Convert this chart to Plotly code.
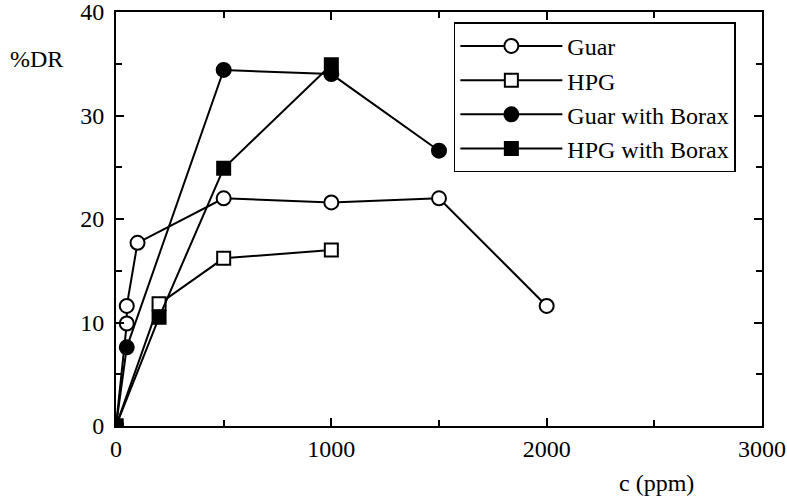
import plotly.graph_objects as go

guar_x = [0, 50, 50, 100, 500, 1000, 1500, 2000]
guar_y = [0, 9.9, 11.6, 17.7, 22.0, 21.6, 22.0, 11.6]

hpg_x = [0, 200, 500, 1000]
hpg_y = [0, 11.8, 16.2, 17.0]

guarb_x = [0, 50, 500, 1000, 1500]
guarb_y = [0, 7.6, 34.4, 34.0, 26.6]

hpgb_x = [0, 200, 500, 1000]
hpgb_y = [0, 10.5, 24.9, 34.9]

x_ticks = [0, 1000, 2000, 3000]
y_ticks = [0, 10, 20, 30, 40]

FONT = "Liberation Serif"
fig = go.Figure()

def add(name, x, y, symbol, fill):
    fig.add_trace(go.Scatter(
        x=x, y=y, name=name, mode="lines+markers",
        line=dict(color="black", width=2),
        marker=dict(symbol=symbol, size=14 if "circle" in symbol else 13,
                    color=fill, line=dict(color="black", width=2)),
    ))

add("Guar", guar_x, guar_y, "circle", "white")
add("HPG", hpg_x, hpg_y, "square", "white")
add("Guar with Borax", guarb_x, guarb_y, "circle", "black")
add("HPG with Borax", hpgb_x, hpgb_y, "square", "black")

axis_common = dict(
    showline=True, linecolor="black", linewidth=2, mirror="allticks",
    ticks="inside", ticklen=8, tickwidth=1.5, tickcolor="black",
    showgrid=False, zeroline=False, automargin=False,
    ticklabeloverflow="allow",
    tickfont=dict(family=FONT, size=24, color="black"),
)

fig.update_xaxes(range=[0, 3000], tickvals=x_ticks,
                 ticktext=[str(v) for v in x_ticks],
                 minor=dict(dtick=500, ticks="inside", ticklen=6,
                            tickcolor="black", tickwidth=1.5),
                 **axis_common)
fig.update_yaxes(range=[0, 40], tickvals=y_ticks,
                 ticktext=[str(v) for v in y_ticks],
                 ticklabelstandoff=5,
                 minor=dict(dtick=5, ticks="inside", ticklen=6,
                            tickcolor="black", tickwidth=1.5),
                 **axis_common)

fig.update_layout(
    width=787, height=498,
    margin=dict(l=116, r=25, t=12, b=72),
    paper_bgcolor="white", plot_bgcolor="white",
    font=dict(family=FONT, size=24, color="black"),
    showlegend=True,
    legend=dict(x=0.523, y=0.975, xanchor="left", yanchor="top",
                bordercolor="black", borderwidth=1.5, bgcolor="white",
                itemwidth=102, tracegroupgap=0,
                font=dict(family=FONT, size=24, color="black")),
    annotations=[
        dict(text="%DR", xref="paper", yref="paper", x=-0.167, y=0.887,
             xanchor="left", yanchor="middle", showarrow=False,
             font=dict(family=FONT, size=24, color="black")),
        dict(text="c (ppm)", xref="paper", yref="paper", x=0.837, y=-0.138,
             xanchor="center", yanchor="middle", showarrow=False,
             font=dict(family=FONT, size=24, color="black")),
    ],
)

fig.write_html("out.html")
